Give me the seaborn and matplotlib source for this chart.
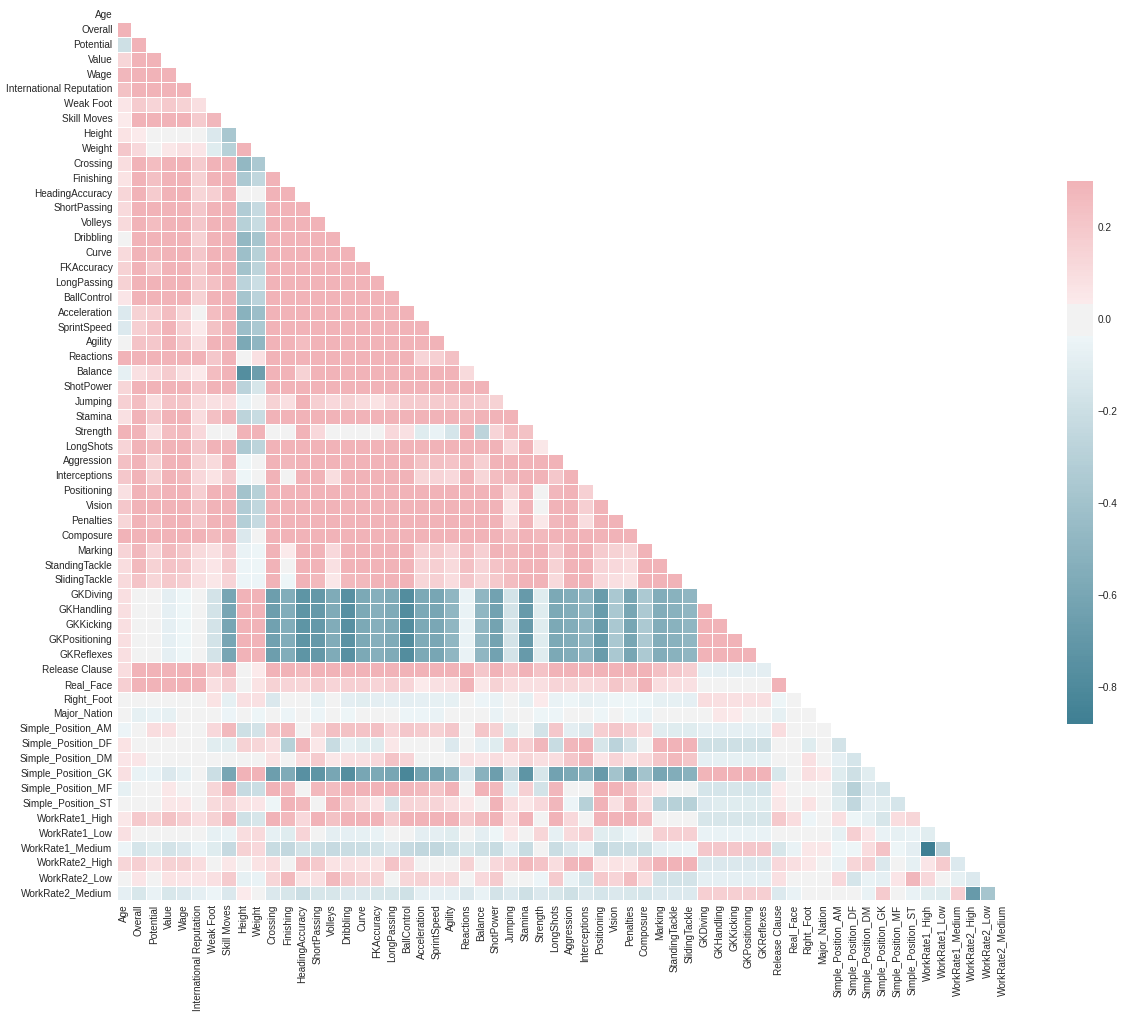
import colorsys

import matplotlib
matplotlib.use('Agg')
import matplotlib.pyplot as plt
import numpy as np
import pandas as pd
import seaborn as sns
from seaborn.external import husl

labels = ['Age', 'Overall', 'Potential', 'Value', 'Wage', 'International Reputation', 'Weak Foot', 'Skill Moves',
          'Height', 'Weight', 'Crossing', 'Finishing', 'HeadingAccuracy', 'ShortPassing', 'Volleys', 'Dribbling',
          'Curve', 'FKAccuracy', 'LongPassing', 'BallControl', 'Acceleration', 'SprintSpeed', 'Agility', 'Reactions',
          'Balance', 'ShotPower', 'Jumping', 'Stamina', 'Strength', 'LongShots', 'Aggression', 'Interceptions',
          'Positioning', 'Vision', 'Penalties', 'Composure', 'Marking', 'StandingTackle', 'SlidingTackle', 'GKDiving',
          'GKHandling', 'GKKicking', 'GKPositioning', 'GKReflexes', 'Release Clause', 'Real_Face', 'Right_Foot',
          'Major_Nation', 'Simple_Position_AM', 'Simple_Position_DF', 'Simple_Position_DM', 'Simple_Position_GK',
          'Simple_Position_MF', 'Simple_Position_ST', 'WorkRate1_High', 'WorkRate1_Low', 'WorkRate1_Medium',
          'WorkRate2_High', 'WorkRate2_Low', 'WorkRate2_Medium']

# lower triangle of the correlation matrix, in hundredths
corr_rows = [
    [],
    [30],
    [-19, 30],
    [13, 30, 30],
    [28, 30, 30, 30],
    [23, 30, 30, 30, 30],
    [6, 18, 14, 19, 15, 9],
    [4, 30, 30, 30, 30, 18, 28],
    [7, 4, 0, 0, 0, 3, -13, -37],
    [20, 12, 0, 5, 8, 6, -11, -30, 30],
    [10, 30, 25, 30, 30, 18, 30, 30, -47, -35],
    [7, 30, 24, 30, 30, 15, 30, 30, -35, -25, 30],
    [13, 30, 18, 30, 30, 13, 17, 30, 0, 0, 30, 30],
    [11, 30, 30, 30, 30, 20, 30, 30, -33, -23, 30, 30, 30],
    [11, 30, 25, 30, 30, 20, 30, 30, -30, -22, 30, 30, 30, 30],
    [0, 30, 30, 30, 30, 15, 30, 30, -47, -38, 30, 30, 30, 30, 30],
    [11, 30, 27, 30, 30, 20, 30, 30, -42, -30, 30, 30, 30, 30, 30, 30],
    [15, 30, 20, 30, 30, 18, 30, 30, -40, -27, 30, 30, 30, 30, 30, 30, 30],
    [15, 30, 30, 30, 30, 18, 24, 30, -28, -20, 30, 30, 30, 30, 30, 30, 30, 30],
    [6, 30, 30, 30, 30, 15, 30, 30, -38, -28, 30, 30, 30, 30, 30, 30, 30, 30, 30],
    [-12, 15, 17, 25, 13, 3, 25, 30, -52, -43, 30, 30, 30, 30, 30, 30, 30, 30, 30, 30],
    [-12, 17, 22, 30, 17, 4, 23, 30, -43, -35, 30, 30, 30, 30, 30, 30, 30, 30, 30, 30, 30],
    [0, 22, 20, 30, 20, 8, 30, 30, -58, -48, 30, 30, 25, 30, 30, 30, 30, 30, 30, 30, 30, 30],
    [30, 30, 30, 30, 30, 30, 20, 30, 0, 8, 30, 30, 30, 30, 30, 30, 30, 30, 30, 30, 14, 17, 24],
    [-7, 8, 12, 18, 9, 4, 25, 30, -77, -65, 30, 30, 15, 30, 30, 30, 30, 30, 30, 30, 30, 30, 30, 11],
    [13, 30, 30, 30, 30, 22, 30, 30, -28, -15, 30, 30, 30, 30, 30, 30, 30, 30, 30, 30, 30, 30, 30, 30, 30],
    [16, 25, 10, 22, 21, 11, 8, 10, -6, 0, 15, 9, 30, 17, 12, 15, 11, 7, 14, 18, 18, 18, 19, 20, 18, 15],
    [8, 30, 20, 30, 30, 10, 24, 30, -27, -22, 30, 30, 30, 30, 30, 30, 30, 30, 30, 30, 30, 30, 30, 27, 30, 30, 30],
    [30, 30, 8, 25, 26, 12, 0, 0, 30, 30, 0, 0, 30, 12, 0, 0, 0, 0, 12, 8, -11, -6, -16, 30, -27, 14, 25, 23],
    [14, 30, 26, 30, 30, 20, 30, 30, -35, -27, 30, 30, 30, 30, 30, 30, 30, 30, 30, 30, 30, 30, 30, 30, 30, 30, 12, 30, 5],
    [24, 30, 15, 30, 30, 15, 11, 30, -4, 0, 30, 28, 30, 30, 30, 30, 30, 30, 30, 30, 23, 24, 22, 27, 17, 30, 30, 30, 30, 30],
    [20, 30, 15, 30, 27, 12, 7, 20, -4, 0, 30, 0, 30, 30, 10, 30, 30, 30, 30, 30, 13, 14, 12, 30, 13, 25, 28, 30, 30, 20, 30],
    [8, 30, 26, 30, 30, 17, 30, 30, -40, -30, 30, 30, 30, 30, 30, 30, 30, 30, 30, 30, 30, 30, 30, 30, 30, 30, 13, 30, 0, 28, 30, 16],
    [20, 30, 30, 30, 30, 22, 30, 30, -33, -25, 30, 30, 30, 30, 30, 30, 30, 30, 30, 30, 30, 30, 30, 30, 30, 30, 5, 30, -3, 30, 30, 17, 30],
    [13, 30, 24, 30, 30, 20, 30, 30, -31, -23, 30, 30, 30, 30, 30, 30, 30, 30, 30, 30, 30, 30, 30, 30, 30, 30, 10, 30, 5, 28, 30, 10, 30, 30],
    [30, 30, 30, 30, 30, 30, 26, 30, -13, 0, 30, 30, 30, 30, 30, 30, 30, 30, 30, 30, 30, 30, 30, 30, 30, 30, 24, 30, 27, 30, 30, 30, 30, 30, 30],
    [14, 28, 14, 26, 21, 11, 8, 20, -6, -4, 30, 4, 30, 30, 12, 30, 30, 30, 30, 30, 17, 19, 14, 25, 17, 30, 27, 30, 30, 20, 30, 30, 18, 15, 13, 30],
    [10, 27, 15, 22, 20, 9, 6, 18, -5, -4, 30, 0, 30, 30, 8, 30, 30, 30, 30, 30, 14, 17, 11, 24, 14, 22, 25, 30, 30, 15, 30, 30, 14, 12, 10, 30, 30],
    [11, 22, 13, 19, 17, 9, 5, 14, -5, -5, 30, -4, 30, 27, 5, 27, 27, 30, 30, 30, 13, 16, 10, 20, 13, 19, 25, 30, 30, 11, 30, 30, 12, 9, 7, 30, 30, 30],
    [9, 0, -3, -9, -4, 0, -17, -60, 30, 30, -65, -55, -72, -70, -57, -75, -58, -53, -57, -78, -58, -60, -48, -6, -48, -63, -17, -68, -11, -58, -55, -48, -67, -36, -60, -35, -55, -52, -48],
    [9, 0, -3, -8, -4, 0, -17, -60, 30, 30, -65, -55, -72, -69, -57, -75, -58, -53, -57, -78, -58, -60, -48, -6, -48, -63, -17, -68, -11, -58, -55, -48, -67, -36, -60, -35, -55, -52, -48, 30],
    [9, 0, -3, -8, -4, 0, -17, -60, 30, 30, -64, -55, -72, -69, -56, -75, -58, -53, -57, -78, -58, -59, -48, -6, -48, -62, -17, -68, -11, -58, -55, -48, -67, -36, -60, -35, -55, -52, -48, 30, 30],
    [9, 0, -3, -8, -4, 0, -17, -60, 30, 30, -64, -55, -72, -69, -56, -74, -58, -53, -57, -78, -57, -59, -48, -6, -48, -62, -17, -68, -11, -58, -55, -48, -67, -36, -60, -35, -55, -52, -48, 30, 30, 30],
    [9, 0, -3, -8, -4, 0, -17, -60, 30, 30, -65, -55, -72, -70, -57, -75, -58, -53, -57, -78, -58, -60, -48, -6, -48, -63, -17, -68, -11, -58, -55, -48, -67, -36, -60, -35, -55, -52, -48, 30, 30, 30, 30],
    [10, 30, 30, 30, 30, 30, 19, 28, 0, 4, 30, 30, 27, 30, 30, 30, 30, 30, 30, 30, 30, 30, 30, 30, 20, 30, 22, 30, 22, 30, 30, 30, 30, 30, 30, 30, 24, 20, 17, -8, -9, -9, -9, -9],
    [17, 30, 30, 30, 30, 30, 9, 16, 0, 7, 15, 14, 13, 18, 14, 17, 16, 14, 17, 14, 4, 8, 9, 30, 5, 15, 10, 9, 9, 14, 13, 11, 12, 21, 15, 30, 10, 9, 8, 0, 0, 0, 0, 0, 30],
    [0, -3, 0, -3, -3, 0, 7, -7, 8, 8, -13, -3, -3, -7, -3, -9, -10, -9, -8, -9, -8, -7, -7, 0, -5, -6, 0, -7, 4, -6, -4, -7, -6, -4, -4, -4, -7, -7, -8, 10, 9, 8, 9, 9, -4, 0],
    [0, -7, -6, -7, 0, 0, -2, -5, -3, -4, -2, -5, -3, -5, -3, -4, -2, -3, -3, -5, -5, -6, -3, -3, 0, -6, 0, -3, -4, -5, -3, 0, -4, -3, -4, -6, 0, 0, 0, 0, 5, 4, 0, 0, -7, 0, 0],
    [-5, 0, 10, 9, 0, 0, 12, 27, -19, -17, 21, 26, -3, 15, 24, 23, 22, 24, 14, 20, 18, 15, 20, 0, 21, 15, -11, 0, -17, 20, -9, -13, 17, 20, 17, 11, -10, -11, -11, -8, -8, -8, -8, -8, 10, 0, 0, -3],
    [7, 0, 0, 0, 0, 0, -10, -10, 15, 13, 9, -30, 28, 5, -22, -7, -11, -11, 5, 0, 0, 0, -12, 0, -8, -11, 19, 17, 28, -22, 28, 30, -15, -28, -17, 0, 30, 30, 30, -19, -19, -19, -18, -19, 0, 0, -11, 0, -17],
    [6, 6, 0, 0, 0, 0, 0, 0, -3, 0, 7, 0, 10, 18, 5, 9, 8, 12, 22, 14, -3, -3, 0, 8, 6, 10, 5, 13, 9, 10, 20, 28, 6, 14, 7, 11, 21, 27, 21, -8, -7, -7, -7, -7, 0, 0, 8, 0, -8, -16],
    [8, -6, -6, -13, -7, 0, -20, -60, 30, 30, -65, -57, -75, -72, -60, -77, -60, -58, -60, -82, -62, -62, -52, -12, -52, -65, -24, -72, -15, -63, -58, -52, -68, -40, -62, -40, -60, -55, -52, 29, 30, 30, 30, 30, -14, 0, 9, 5, -11, -19, -10],
    [-7, 0, 0, 5, 0, 0, 13, 30, -23, -20, 30, 28, -3, 27, 25, 30, 30, 30, 30, 28, 26, 21, 30, 0, 30, 27, -9, 16, -17, 28, 0, 0, 30, 30, 22, 12, 4, 0, 0, -16, -16, -15, -16, -16, 4, 0, 0, 0, -15, -30, -13, -16],
    [0, 0, 0, 5, 5, 0, 11, 14, 7, 6, -4, 30, 27, 0, 30, 19, 11, 6, -16, 14, 13, 14, 9, 5, 0, 30, 10, 5, 12, 28, -5, -30, 30, 8, 28, 9, -28, -30, -30, -12, -11, -11, -11, -11, 5, 0, 7, -3, -11, -25, -9, -10, -16],
    [5, 19, 15, 23, 17, 9, 15, 28, -18, -15, 30, 27, 12, 30, 23, 30, 30, 30, 18, 30, 30, 30, 30, 18, 26, 30, 10, 30, 0, 30, 12, 0, 30, 30, 30, 25, 0, 0, 0, -15, -15, -15, -15, -15, 19, 10, -5, -3, 9, -4, -7, -15, 10, 13],
    [8, 0, -2, 0, 0, 0, -7, -6, 10, 11, -7, -11, 14, 0, -9, -8, -7, -6, 0, -3, -9, -9, -11, 0, -9, -4, 5, 0, 13, -7, 11, 16, -10, -10, -5, 0, 16, 16, 16, -6, -6, -6, -6, -6, 0, 0, 0, 0, -7, 17, 6, -6, -7, -6, -10],
    [-5, -16, -11, -17, -13, -6, -11, -23, 15, 12, -22, -24, -17, -20, -23, -21, -20, -17, -13, -23, -25, -25, -20, -14, -19, -22, -9, -22, -3, -21, -13, -6, -25, -20, -20, -19, -8, -6, -5, 20, 20, 20, 20, 20, -15, -6, 5, 5, -4, -4, 10, 22, -4, -9, -88, -28],
    [13, 17, 10, 15, 15, 10, 0, 5, 0, 7, 10, 0, 24, 19, 7, 8, 7, 7, 22, 14, 0, 0, 0, 15, 0, 12, 16, 27, 22, 10, 28, 30, 5, 7, 5, 20, 30, 30, 30, -13, -13, -13, -13, -13, 12, 9, 5, 0, -6, 13, 16, -13, 0, -7, 6, 18, -12],
    [0, 6, 0, 7, 6, 6, 8, 18, -7, -6, 13, 27, 7, 9, 27, 19, 15, 15, 0, 13, 15, 12, 13, 0, 12, 18, 0, 0, -5, 18, -6, -16, 19, 14, 25, 10, -17, -17, -17, -8, -8, -8, -8, -8, 8, 0, 0, 0, 12, -16, -6, -8, 6, 28, 12, -3, -7, -12],
    [-8, -14, -6, -14, -12, -8, -5, -13, 4, 0, -13, -15, -20, -15, -15, -13, -13, -15, -15, -18, -8, -8, -8, -13, -6, -17, -12, -19, -13, -15, -19, -13, -16, -13, -14, -16, -12, -12, -12, 17, 17, 17, 17, 17, -12, -6, 0, 0, 0, 0, -6, 18, 0, -6, -10, -11, 17, -68, -38],
]

n = len(labels)
corr = np.zeros((n, n))
for i, row in enumerate(corr_rows):
    corr[i, :len(row)] = np.array(row) / 100
corr = pd.DataFrame(corr, index=labels, columns=labels)

# only the lower triangle is drawn
mask = np.triu(np.ones((n, n), dtype=bool))


# diverging palette the way older seaborn built it: saturated pale ends and a grey band around 0
def old_side(hue, count):
    color = husl.husl_to_rgb(hue, 75, 50)
    h, l, s = colorsys.rgb_to_hls(*color)
    pale = colorsys.hls_to_rgb(h, .95, s)
    return sns.blend_palette([pale, color], count)


sep = 10
side = 128 - sep // 2
colors = old_side(220, side)[::-1] + [(.95, .95, .95)] * sep + old_side(10, side)
cmap = sns.blend_palette(colors, 256, as_cmap=True)

sns.set_theme(style='white')
plt.rcParams['font.family'] = ['Liberation Sans', 'DejaVu Sans']

W, H = 1123, 1017
f = plt.figure(figsize=(W / 72, H / 72), dpi=72)
ax = f.add_axes([116.6 / W, 1 - 900.4 / H, 892.8 / W, 892.8 / H])
cax = f.add_axes([1067 / W, 1 - 724 / H, 26 / W, 543 / H])

sns.heatmap(corr, mask=mask, cmap=cmap, vmin=-0.88, vmax=.3, center=0, linewidths=1,
            ax=ax, cbar_ax=cax, xticklabels=True, yticklabels=True)

ax.tick_params(axis='both', labelsize=10, length=0, pad=4)
plt.setp(ax.get_xticklabels(), rotation=90)
plt.setp(ax.get_yticklabels(), rotation=0)
cax.tick_params(labelsize=10, length=0, pad=5)

f.savefig('out.png', dpi=72)
